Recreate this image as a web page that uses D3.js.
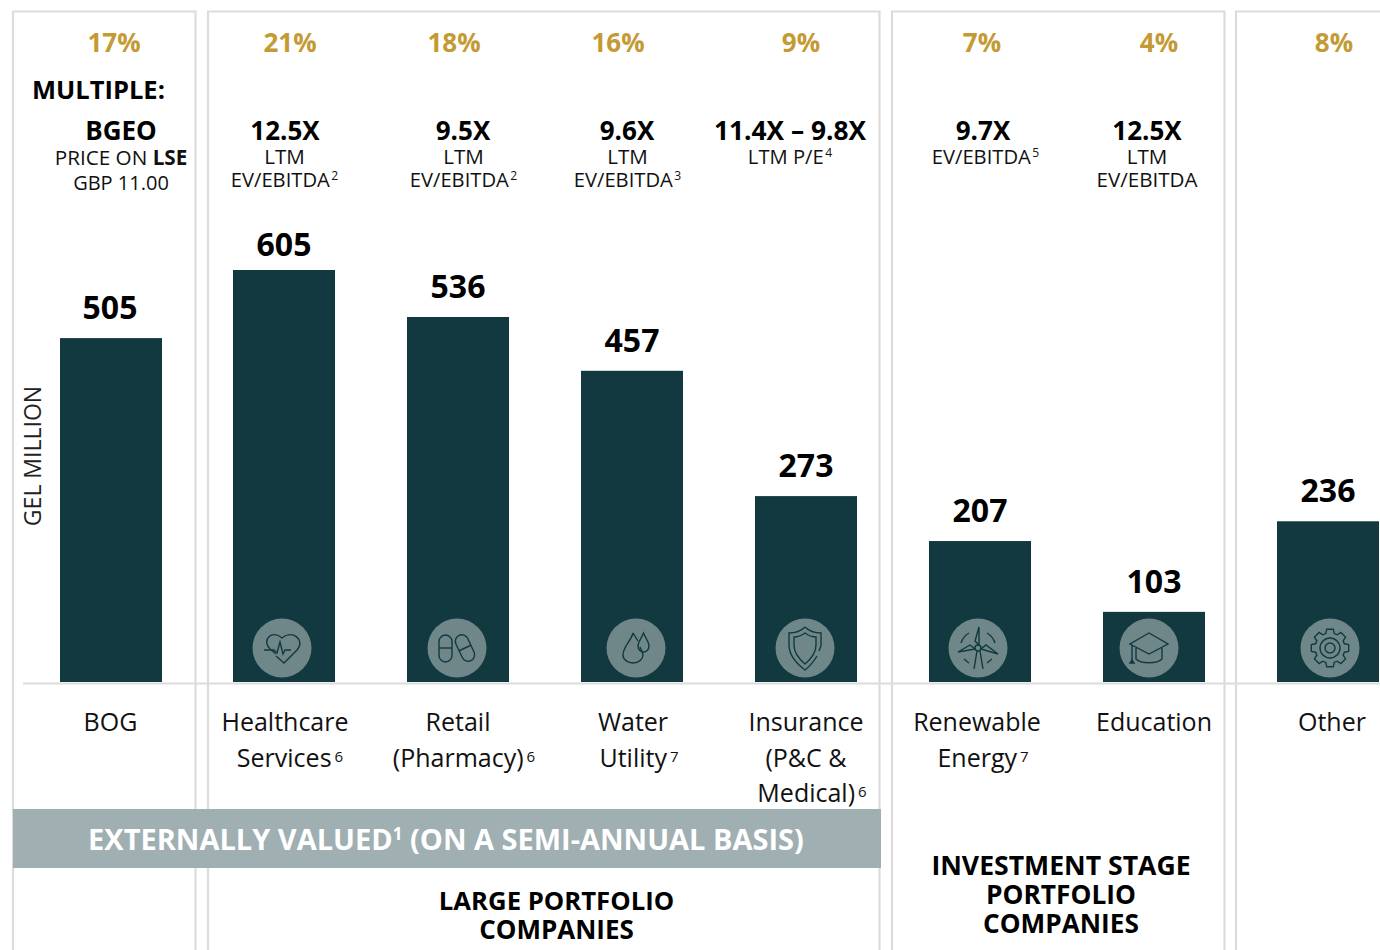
<!DOCTYPE html>
<html><head><meta charset="utf-8">
<script src="https://cdn.jsdelivr.net/npm/d3@7/dist/d3.min.js"></script>
<style>html,body{margin:0;padding:0;background:#fff;overflow:hidden}svg{display:block;font-family:"Open Sans",sans-serif}</style>
</head><body><svg id="c" width="1380" height="950"></svg>
<script>
const categories=["BOG","Healthcare Services","Retail (Pharmacy)","Water Utility","Insurance (P&C & Medical)","Renewable Energy","Education","Other"];
const values=[505,605,536,457,273,207,103,236];
const shares=["17%","21%","18%","16%","9%","7%","4%","8%"];
const shareX=[114,290,454,618,801,982,1159,1334];
const categoryLines=[[["BOG"]],[["Healthcare"],["Services","6"]],[["Retail"],["(Pharmacy)","6"]],[["Water"],["Utility","7"]],[["Insurance"],["(P&C &"],["Medical)","6"]],[["Renewable"],["Energy","7"]],[["Education"]],[["Other"]]];
const categoryLineX=[[110.5],[285,290],[458,464],[633,639],[806,806,812],[977,983],[1154],[1332]];
const multiples=[null,"12.5X","9.5X","9.6X","11.4X – 9.8X","9.7X","12.5X",null];
const multipleX=[0,285,463,627,790,983,1147,0];
const noteX=[0,284.5,463.5,627.5,790,985.5,1147,0];
const multipleNotes=[null,[["LTM"],["EV/EBITDA","2"]],[["LTM"],["EV/EBITDA","2"]],[["LTM"],["EV/EBITDA","3"]],[["LTM P/E","4"]],[["EV/EBITDA","5"]],[["LTM"],["EV/EBITDA"]],null];
const iconNames=[null,"heart","pills","drop","shield","turbine","cap","gear"];
const iconX=[0,282,457,636,805,978,1149,1330];
const panels=[[13,195.5],[208,879.5],[892,1224.5],[1236,1400]];
const gold="#c49a35",teal="#12393f",grid="#dcdcdc",iconFill="#6f8789";

const svg=d3.select("#c");
const x=d3.scaleBand().domain(categories).range([59,1379]).paddingInner(72/174).paddingOuter(0);
const y=d3.scaleLinear().domain([0,605]).range([682,270]);

svg.selectAll("path.panel").data(panels).join("path").attr("class","panel")
  .attr("d",d=>`M${d[0]},950V11.5H${d[1]}V950`).attr("fill","none").attr("stroke",grid).attr("stroke-width",2.2);
svg.append("line").attr("x1",23).attr("x2",1380).attr("y1",683.5).attr("y2",683.5).attr("stroke",grid).attr("stroke-width",2);

svg.selectAll("rect.bar").data(values).join("rect").attr("class","bar")
  .attr("x",(d,i)=>x(categories[i])+(i===0?1:0)).attr("width",x.bandwidth())
  .attr("y",d=>y(d)).attr("height",d=>y(0)-y(d)).attr("fill",teal);

function T(xp,yp,size,weight,color,anchor){
  return svg.append("text").attr("x",xp).attr("y",yp).attr("font-size",size).attr("font-weight",weight||400)
    .attr("fill",color||"#111").attr("text-anchor",anchor||"middle");
}
function lineWithSup(xp,yp,size,parts,rise,gap){
  const t=T(xp,yp,size);
  t.append("tspan").text(parts[0]);
  if(parts[1]) t.append("tspan").text(parts[1]).attr("font-size",size*0.6).attr("dy",-size*rise).attr("dx",gap);
  return t;
}
shares.forEach((s,i)=>T(shareX[i],52,26,700,gold).text(s));
values.forEach((v,i)=>T(x(categories[i])+x.bandwidth()/2,y(v)-(v===605?14:19),32,700,"#000").text(v));

T(32,99,25.5,700,"#000","start").text("MULTIPLE:");
T(121,140,26,700,"#000").text("BGEO");
const p=T(121,165,20.7,400,"#111");p.append("tspan").text("PRICE ON ");p.append("tspan").text("LSE").attr("font-weight",700);
T(121,190,20,400,"#111").text("GBP 11.00");

multiples.forEach((m,i)=>{ if(m) T(multipleX[i],140,i===4?26.3:26,700,"#000").text(m); });
multipleNotes.forEach((n,i)=>{ if(n) n.forEach((l,j)=>lineWithSup(noteX[i],164+j*23,l[1]?20.2:20.6,l,0.35,1.5)); });

categoryLines.forEach((ls,i)=>ls.forEach((l,j)=>lineWithSup(categoryLineX[i][j],731+j*35.5,25,l,0.2,3)));

svg.append("g").attr("transform","translate(41,456) rotate(-90)").append("text").attr("text-anchor","middle")
  .attr("font-size",23).attr("fill","#222").text("GEL MILLION");

svg.append("rect").attr("x",13).attr("y",809).attr("width",868).attr("height",59).attr("fill","#a0afb2");
const band=T(446,850,29,700,"#fff");band.append("tspan").text("EXTERNALLY VALUED");band.append("tspan").text("1").attr("font-size",17).attr("dy",-10);
band.append("tspan").text(" (ON A SEMI-ANNUAL BASIS)").attr("dy",10);

[["LARGE PORTFOLIO",556.5,910,25.7],["COMPANIES",556.5,939,26],["INVESTMENT STAGE",1061,875,26.6],["PORTFOLIO",1061,904,26.3],["COMPANIES",1061,933,26.2]]
  .forEach(d=>T(d[1],d[2],d[3],700,"#000").text(d[0]));

const ic={
 heart:g=>{g.append("path").attr("d","M-6,6 L-12,1 C-21,-8 -10,-19 0,-10 C10,-19 24,-8 15,2 L2,15 L-6,8");
   g.append("path").attr("d","M-18,2 H-8 L-5,5 L-2,-6 L1,6 L3,2 H9");},
 pills:g=>{g.append("rect").attr("x",-18).attr("y",-13).attr("width",13).attr("height",27).attr("rx",6.5);g.append("path").attr("d","M-18,0H-5");
   const h=g.append("g").attr("transform","translate(8,0) rotate(-25)");h.append("rect").attr("x",-6.5).attr("y",-14).attr("width",13).attr("height",28).attr("rx",6.5);h.append("path").attr("d","M-6.5,0H6.5");},
 drop:g=>{g.append("path").attr("d","M-3,-15 C-5,-7 -13,-1 -13,7 A10,8 0 0 0 7,7 C7,4 5,2 4,-1 M-3,-15 L2,-7");
   g.append("path").attr("d","M7.5,-15 C5,-9 2,-6 2,-2 A5.5,6 0 0 0 13,-2 C13,-6 10,-9 7.5,-15Z");},
 shield:g=>{g.append("path").attr("d","M0,-21 C-5,-16 -12,-15 -16,-15 V-3 C-16,7 -8,16 0,22 C5,18 9,13 12,8 M14,3 C15,0 16,-1 16,-3 V-15 C12,-15 5,-16 0,-21");
   g.append("path").attr("d","M0,-15 C-4,-12 -8,-11 -11,-11 V-3 C-11,5 -6,11 0,16 C6,11 11,5 11,-3 V-11 C8,-11 4,-12 0,-15Z");},
 turbine:g=>{g.append("circle").attr("r",3);
   g.append("path").attr("d","M1,-3 L1,-21 L-3,-7 Z M3,1 L20,6 L8,-3 Z M-3,1 L-20,4 L-8,-3 Z M-1,3 L-4,21 M2,3 L5,21");
   g.append("path").attr("d","M-17,-5 A18,18 0 0 1 -9,-15 M17,-5 A18,18 0 0 0 9,-15 M-14,11 L-9,15 M14,11 L9,15");},
 cap:g=>{g.append("path").attr("d","M0,-15 L-19,-4 L0,6 L19,-4 Z M-13,0 V11 C-8,16 8,16 13,11 V0 M-17,-3 V12");
   g.append("path").attr("d","M-17,12 L-15,15 H-19 Z").attr("fill",teal);},
 gear:g=>{g.append("circle").attr("r",5);g.append("circle").attr("r",10);
   const n=8,pts=[];for(let k=0;k<n;k++){const a=k/n*2*Math.PI,w=0.22;[[15,a-w*1.3],[19,a-w*.8],[19,a+w*.8],[15,a+w*1.3]].forEach(q=>pts.push([q[0]*Math.sin(q[1]),-q[0]*Math.cos(q[1])]));}
   g.append("path").attr("d",d3.line().curve(d3.curveLinearClosed)(pts));}
};
iconNames.forEach((n,i)=>{ if(!n) return;
  svg.append("circle").attr("cx",iconX[i]).attr("cy",648).attr("r",29.5).attr("fill",iconFill);
  const g=svg.append("g").attr("transform",`translate(${iconX[i]},648)`).attr("fill","none").attr("stroke",teal).attr("stroke-width",1.4);
  ic[n](g);
});
</script></body></html>
